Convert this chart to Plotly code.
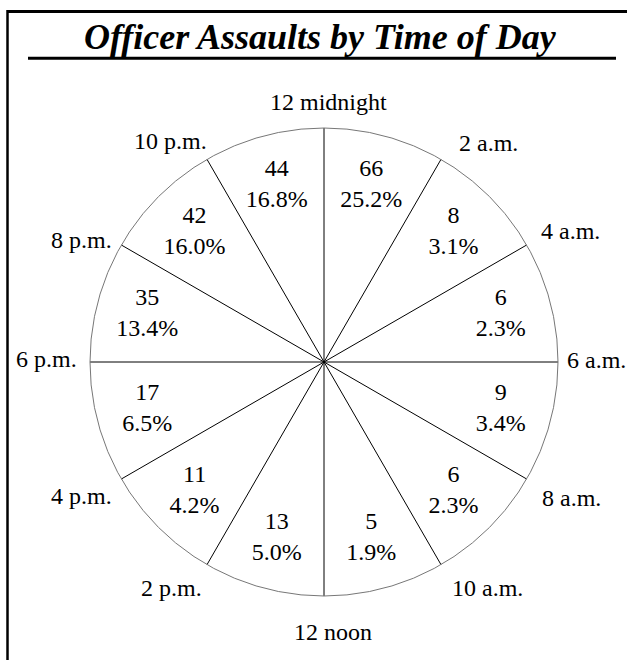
import math
import plotly.graph_objects as go

# ---- data ----
time_labels = ["12 midnight", "2 a.m.", "4 a.m.", "6 a.m.", "8 a.m.", "10 a.m.",
               "12 noon", "2 p.m.", "4 p.m.", "6 p.m.", "8 p.m.", "10 p.m."]
counts = [66, 8, 6, 9, 6, 5, 13, 11, 17, 35, 42, 44]
percents = [25.2, 3.1, 2.3, 3.4, 2.3, 1.9, 5.0, 4.2, 6.5, 13.4, 16.0, 16.8]

# ---- layout helpers (positions / styles) ----
W, H = 627, 660
CX, CY, R = 324, 362, 234
spoke_angles = [30 * i for i in range(12)]
mid_angles = [30 * i + 15 for i in range(12)]
sector_label_r = 0.782
time_label_r = [1.113, 1.173, 1.192, 1.163, 1.206, 1.191, 1.153, 1.164, 1.185, 1.186, 1.161, 1.149]
time_label_theta = [1.1, 36.9, 62.1, 89.5, 118.7, 144.1, 178.1, 214.1, 241.0, 270.7, 296.8, 325.1]

FONT = "Liberation Serif"

fig = go.Figure()

# sector labels: count and percentage
fig.add_trace(go.Scatterpolar(
    r=[sector_label_r] * len(counts),
    theta=mid_angles,
    mode="text",
    text=[f"{c}<br>{p:.1f}%" for c, p in zip(counts, percents)],
    textposition="middle center",
    textfont=dict(family=FONT, size=24, color="black"),
    hoverinfo="skip",
    showlegend=False,
))

annotations = [dict(
    text="Officer Assaults by Time of Day",
    xref="paper", yref="paper",
    x=320.5 / W, y=1 - 37.5 / H,
    xanchor="center", yanchor="middle",
    showarrow=False,
    font=dict(family=FONT, size=36, color="black", weight="bold", style="italic"),
)]

# time-of-day labels placed around the clock face (polar -> paper position)
for lab, rr, th in zip(time_labels, time_label_r, time_label_theta):
    px = CX + rr * R * math.sin(math.radians(th))
    py = CY - rr * R * math.cos(math.radians(th))
    annotations.append(dict(
        text=lab, xref="paper", yref="paper",
        x=px / W, y=1 - py / H,
        xanchor="center", yanchor="middle",
        showarrow=False,
        font=dict(family=FONT, size=24, color="black"),
    ))

fig.update_layout(
    width=W, height=H,
    margin=dict(l=0, r=0, t=0, b=0),
    paper_bgcolor="white",
    plot_bgcolor="white",
    polar=dict(
        domain=dict(x=[(CX - R) / W, (CX + R) / W],
                    y=[(H - CY - R) / H, (H - CY + R) / H]),
        bgcolor="white",
        radialaxis=dict(visible=False, range=[0, 1]),
        angularaxis=dict(
            direction="clockwise", rotation=90,
            tickmode="array", tickvals=spoke_angles,
            showticklabels=False, ticks="",
            showgrid=True, gridcolor="black", gridwidth=1.2,
            showline=True, linecolor="#777777", linewidth=1,
        ),
    ),
    annotations=annotations,
    shapes=[
        # top frame line
        dict(type="line", xref="paper", yref="paper",
             x0=7.5 / W, x1=1.0, y0=1 - 11.5 / H, y1=1 - 11.5 / H,
             line=dict(color="black", width=3)),
        # left frame line
        dict(type="line", xref="paper", yref="paper",
             x0=7.5 / W, x1=7.5 / W, y0=0, y1=1 - 10 / H,
             line=dict(color="black", width=2.5)),
        # title underline
        dict(type="line", xref="paper", yref="paper",
             x0=28 / W, x1=616 / W, y0=1 - 58.3 / H, y1=1 - 58.3 / H,
             line=dict(color="black", width=3)),
    ],
)

fig.write_html(
    "out.html",
    config={"displayModeBar": False},
    post_script="document.body.style.margin='0';document.documentElement.style.overflow='hidden';",
)
